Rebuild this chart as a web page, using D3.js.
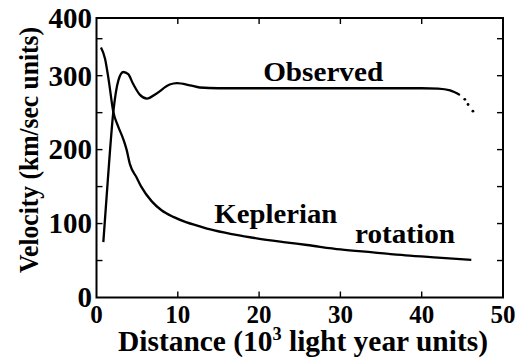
<!DOCTYPE html>
<html>
<head>
<meta charset="utf-8">
<script src="https://cdn.jsdelivr.net/npm/d3@7/dist/d3.min.js"></script>
</head>
<body style="margin:0">
<svg id="s" width="521" height="358"></svg>
<script>
// ---- data ----
const xTicks = [0, 10, 20, 30, 40, 50];
const xTickLabels = ["0", "10", "20", "30", "40", "50"];
const yTicks = [0, 100, 200, 300];
const yTickLabels = ["0", "100", "200", "300", "400"];
const yMinorTicks = [50, 100, 150, 200, 250, 300, 350];
const xInnerTicks = [10, 20, 30, 40];

const observedX = [0.84, 1.4, 2.07, 2.7, 3.3, 3.9, 4.5, 5.35, 6.2, 7.4, 9.0, 9.9, 11.5, 12.7, 15, 20, 30, 40, 42, 43.5, 44.7];
const observedY = [75, 160, 251, 294, 305, 302, 289, 274, 269, 276, 288, 290, 287, 284, 283, 283, 283, 283, 282.5, 280, 274];
const observedTailX = [45.3, 45.7, 46.3];
const observedTailY = [268, 261, 252];

const keplerX = [0.55, 1.05, 1.5, 2.07, 2.6, 3.3, 3.7, 4.12, 4.9, 5.5, 6.8, 8, 9.45, 11, 12.5, 14, 17, 19.7, 23, 25.9, 30, 34, 38, 42, 46.1];
const keplerY = [338, 323, 294, 251, 233, 214, 200, 180, 163, 150, 130, 118, 109, 102, 97, 92, 85, 80, 75, 71, 65, 61, 57, 54, 51];

const xLabel = ["Distance (10", "3", " light year units)"];
const yLabel = "Velocity (km/sec units)";
const annotations = [
  { text: "Observed", x: 20.5, y: 293 },
  { text: "Keplerian", x: 14.5, y: 101 },
  { text: "rotation", x: 31.8, y: 74 }
];

// ---- layout ----
const svg = d3.select("#s");
const pL = 96.5, pR = 503, pT = 18, pB = 297.5;
const x = d3.scaleLinear().domain([0, 50]).range([pL, pR]);
const y = d3.scaleLinear().domain([0, 378]).range([pB, pT]);

function styleText(sel, size) {
  sel.style("font-family", "\"Liberation Serif\", \"Noto Serif\", \"DejaVu Serif\", serif")
     .style("font-weight", "700")
     .style("font-size", size + "px").style("fill", "#000");
  return sel;
}

// frame
svg.append("rect")
  .attr("x", pL).attr("y", pT)
  .attr("width", pR - pL).attr("height", pB - pT)
  .attr("fill", "none").attr("stroke", "#000").attr("stroke-width", 2);

// inward ticks
const tl = 6;
const g = svg.append("g").attr("stroke", "#000").attr("stroke-width", 1.4);
yMinorTicks.forEach(v => {
  g.append("line").attr("x1", pL).attr("x2", pL + tl).attr("y1", y(v)).attr("y2", y(v));
  g.append("line").attr("x1", pR).attr("x2", pR - tl).attr("y1", y(v)).attr("y2", y(v));
});
xInnerTicks.forEach(v => {
  g.append("line").attr("x1", x(v)).attr("x2", x(v)).attr("y1", pB).attr("y2", pB - tl);
  g.append("line").attr("x1", x(v)).attr("x2", x(v)).attr("y1", pT).attr("y2", pT + tl);
});

// x tick labels
svg.selectAll(".xt").data(xTicks).enter().append("text").attr("class", "xt")
  .attr("x", d => x(d)).attr("y", pB + 25).attr("text-anchor", "middle")
  .call(styleText, 25)
  .text((d, i) => xTickLabels[i]);

// y tick labels
svg.selectAll(".yt").data(yTicks).enter().append("text").attr("class", "yt")
  .attr("x", pL - 4.5).attr("y", d => y(d)).attr("dy", "0.34em").attr("text-anchor", "end")
  .call(styleText, 29)
  .text((d, i) => yTickLabels[i]);
svg.append("text")
  .attr("x", pL - 4.5).attr("y", y(y.domain()[1]))
  .attr("dy", "0.34em").attr("text-anchor", "end")
  .call(styleText, 29)
  .text(yTickLabels[4]);

// curves
const line = d3.line().x(d => x(d[0])).y(d => y(d[1])).curve(d3.curveMonotoneX);
const obs = observedX.map((v, i) => [v, observedY[i]]);
const kep = keplerX.map((v, i) => [v, keplerY[i]]);
svg.append("path").datum(kep).attr("d", line)
  .attr("fill", "none").attr("stroke", "#000").attr("stroke-width", 2.3);
svg.append("path").datum(obs).attr("d", line)
  .attr("fill", "none").attr("stroke", "#000").attr("stroke-width", 2.3);
svg.selectAll(".tail").data(observedTailX.map((v, i) => [v, observedTailY[i]])).enter()
  .append("circle").attr("class", "tail")
  .attr("cx", d => x(d[0])).attr("cy", d => y(d[1])).attr("r", 1.4).attr("fill", "#000");

// annotations
const annLen = { "Observed": 120, "Keplerian": 123, "rotation": 100 };
annotations.forEach(a => {
  svg.append("text")
    .attr("x", x(a.x)).attr("y", y(a.y))
    .call(styleText, 27)
    .attr("textLength", annLen[a.text]).attr("lengthAdjust", "spacingAndGlyphs")
    .text(a.text);
});

// axis titles
const xt = svg.append("text")
  .attr("x", 118).attr("y", 351)
  .call(styleText, 29)
  .attr("textLength", 370).attr("lengthAdjust", "spacingAndGlyphs");
xt.append("tspan").text(xLabel[0]);
xt.append("tspan").attr("dy", -11).style("font-size", "18px").text(xLabel[1]);
xt.append("tspan").attr("dy", 11).text(xLabel[2]);

svg.append("text")
  .attr("transform", "translate(38,150) rotate(-90)")
  .attr("text-anchor", "middle")
  .call(styleText, 28)
  .attr("textLength", 246).attr("lengthAdjust", "spacingAndGlyphs")
  .text(yLabel);
</script>
</body>
</html>
